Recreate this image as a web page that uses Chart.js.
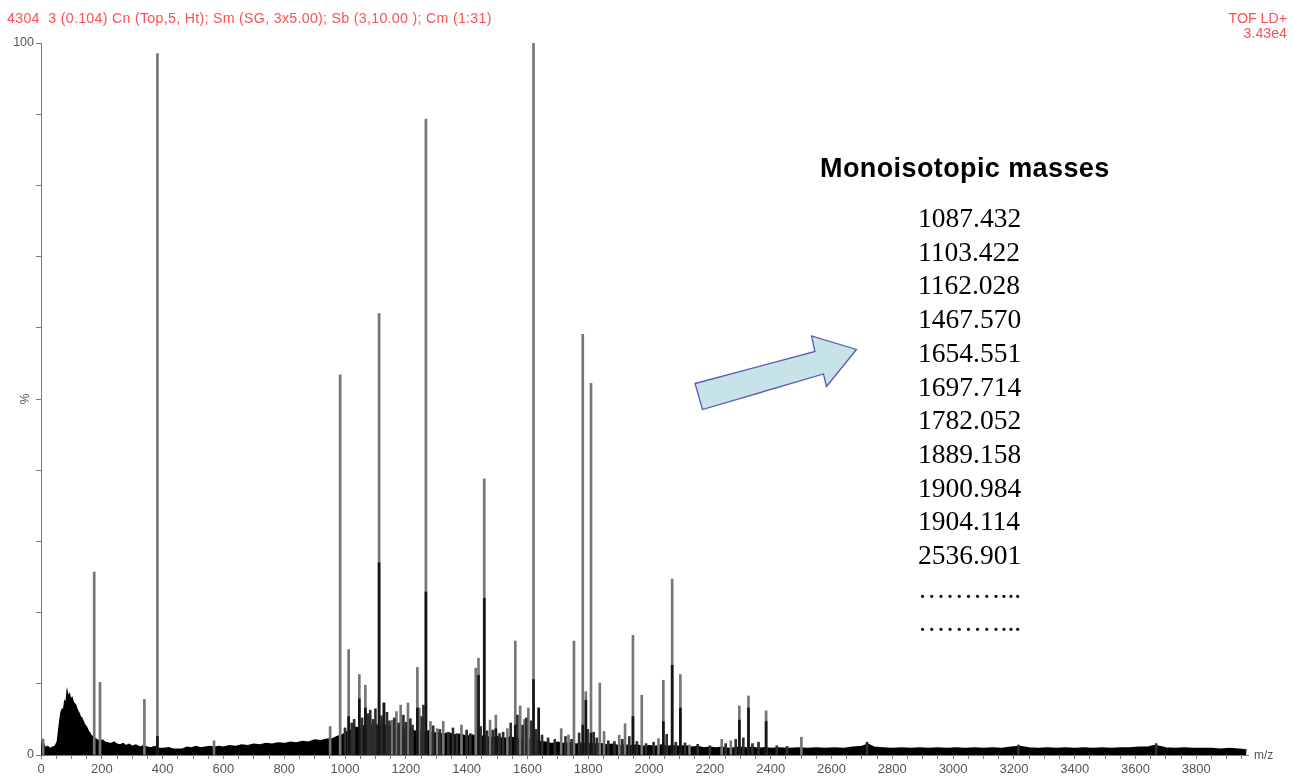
<!DOCTYPE html>
<html>
<head>
<meta charset="utf-8">
<script src="https://cdn.jsdelivr.net/npm/chart.js@4.4.1/dist/chart.umd.min.js"></script>
<style>
  html, body { margin:0; padding:0; background:#fff; }
  #wrap { position:relative; width:1293px; height:778px; overflow:hidden; }
  #c { position:absolute; left:0; top:0; }
  .hdr { position:absolute; font-family:"Liberation Sans", Arial, sans-serif; font-size:14.2px; letter-spacing:0.3px; color:#ff5050; white-space:pre; line-height:1; }
  #annTitle { position:absolute; left:820px; top:155px; font-family:"Liberation Sans", Arial, sans-serif; font-weight:bold; font-size:27px; letter-spacing:0.4px; line-height:1; color:#000; white-space:nowrap; }
  #annList { position:absolute; left:918px; top:201px; font-family:"Liberation Serif", "Times New Roman", serif; font-size:27.5px; line-height:33.7px; color:#000; white-space:pre; }
  #mz { position:absolute; left:1254px; top:749px; font-family:"Liberation Sans", Arial, sans-serif; font-size:12px; color:#555; line-height:1; }
  svg { position:absolute; left:0; top:0; pointer-events:none; }
</style>
</head>
<body>
<div id="wrap">
  <canvas id="c" width="1293" height="778"></canvas>
  <div class="hdr" id="hdrL" style="left:7px; top:11px;"></div>
  <div class="hdr" id="hdrR1" style="right:6px; top:11px; text-align:right; letter-spacing:0;"></div>
  <div class="hdr" id="hdrR2" style="right:6px; top:26px; text-align:right; letter-spacing:0;"></div>
  <div id="annTitle"></div>
  <div id="annList"></div>
  <div id="mz">m/z</div>
  <svg width="1293" height="778">
    <polygon points="695,383.5 815,351.5 811.5,336 856.5,349.5 826.5,386.5 823.5,374 702.5,409.5"
      fill="#c6e3e7" stroke="#5a5ab8" stroke-width="1.3" stroke-linejoin="miter"/>
  </svg>
</div>
<script>
// ---------- text ----------
const headerLeft = "4304  3 (0.104) Cn (Top,5, Ht); Sm (SG, 3x5.00); Sb (3,10.00 ); Cm (1:31)";
const headerRight = ["TOF LD+", "3.43e4"];
const annotationTitle = "Monoisotopic masses";
const monoMasses = ["1087.432","1103.422","1162.028","1467.570","1654.551","1697.714",
                    "1782.052","1889.158","1900.984","1904.114","2536.901","………...","………..."];
const xLabelStep = 200;

// ---------- spectrum peaks (m/z, relative intensity %) ----------
const peakMz  = [7, 175, 194, 340, 383, 569, 951, 984, 1012, 1047, 1067, 1112, 1128, 1155, 1169, 1183,
                 1207, 1238, 1244, 1266, 1281, 1303, 1323, 1383, 1430, 1439, 1458, 1477, 1496, 1534,
                 1560, 1576, 1590, 1603, 1620, 1637, 1711, 1735, 1753, 1782, 1792, 1809, 1838, 1852,
                 1902, 1921, 1947, 1976, 2031, 2047, 2076, 2103, 2133, 2239, 2269, 2297, 2327, 2385, 2501];
const peakPct = [2.2, 25.7, 10.2, 7.8, 98.5, 2.0, 4.0, 53.4, 14.8, 11.3, 9.8, 62.0, 7.3, 4.9, 6.1, 7.0,
                 7.3, 12.3, 6.6, 89.3, 4.7, 3.7, 4.7, 4.2, 12.2, 13.6, 38.8, 4.9, 5.6, 3.7,
                 16.0, 6.9, 5.0, 6.6, 100, 6.6, 3.7, 2.8, 16.0, 59.1, 8.9, 52.2, 10.1, 3.3,
                 2.8, 4.4, 16.8, 8.4, 2.3, 10.5, 24.7, 11.3, 1.4, 2.2, 2.0, 6.9, 8.3, 6.2, 2.5];

// dark (overlapping isotope) cores of peaks
const coreMz  = [383, 1012, 1047, 1067, 1112, 1128, 1238, 1266, 1439, 1458, 1496, 1560, 1620, 1637,
                 1782, 1792, 1809, 1947, 2047, 2076, 2103, 2297, 2327, 2385];
const corePct = [2.6, 5.4, 7.9, 6.6, 27.0, 7.3, 6.6, 22.9, 11.2, 22.0, 3.7, 4.2, 10.6, 6.6,
                 4.2, 7.7, 3.1, 5.4, 4.7, 12.6, 6.6, 4.9, 6.6, 4.7];

// small unlabelled spikes in the peptide region
const minorMz  = [1000, 1022, 1030, 1056, 1075, 1083, 1092, 1100, 1120, 1138, 1146, 1162, 1176, 1192, 1200,
                  1215, 1222, 1252, 1258, 1290, 1312, 1340, 1355, 1368, 1400, 1412, 1446, 1467, 1486, 1508,
                  1520, 1545, 1567, 1584, 1596, 1612, 1628, 1648, 1668, 1690, 1725, 1745, 1770, 1798, 1818,
                  1828, 1866, 1886, 1912, 1935, 1960, 1990, 2015, 2058, 2088, 2118, 2160, 2200, 2252, 2285,
                  2310, 2340, 2360, 2420, 2454, 2717, 3215, 3668];
const minorPct = [3.8, 4.5, 5.0, 5.2, 5.8, 6.3, 5.0, 6.5, 5.5, 6.0, 4.8, 5.2, 4.5, 5.6, 4.6,
                  5.1, 4.2, 5.4, 7.0, 4.1, 3.6, 3.2, 3.8, 3.0, 3.5, 3.0, 4.0, 3.4, 3.5, 3.0,
                  3.2, 4.5, 5.6, 4.2, 5.2, 4.8, 3.6, 2.8, 2.4, 2.2, 2.6, 2.2, 3.1, 3.6, 3.2,
                  2.4, 2.0, 1.9, 2.2, 2.6, 1.9, 1.6, 1.8, 2.9, 1.8, 1.7, 1.5, 1.3, 1.6, 2.2,
                  2.4, 1.6, 1.8, 1.3, 1.2, 1.8, 1.4, 1.6];

// chemical-noise baseline envelope
const noiseMz  = [0,5,10,15,22,30,38,46,54,58,62,66,70,74,78,82,86,90,94,98,102,106,110,114,118,122,126,130,134,138,
                  142,146,150,155,160,165,170,178,186,194,202,210,220,230,240,250,260,270,280,290,300,312,325,338,350,
                  362,375,390,405,420,435,450,465,480,495,510,525,540,555,570,585,600,620,640,660,680,700,720,740,760,
                  780,800,820,840,860,880,900,920,940,960,975,990,1005,1020,1035,1050,1065,1080,1095,1110,1125,1140,
                  1155,1170,1185,1200,1215,1230,1245,1260,1275,1290,1305,1320,1340,1360,1380,1400,1420,1440,1460,1480,
                  1500,1520,1540,1560,1580,1600,1620,1640,1660,1680,1700,1720,1740,1760,1780,1800,1820,1840,1860,1880,
                  1900,1920,1940,1960,1980,2000,2020,2040,2060,2080,2100,2120,2140,2160,2180,2200,2220,2240,2260,2280,
                  2300,2320,2340,2360,2380,2400,2430,2460,2490,2520,2550,2580,2610,2640,2670,2700,2720,2740,2770,2800,
                  2830,2860,2890,2920,2950,2980,3010,3040,3070,3100,3130,3160,3190,3220,3250,3280,3310,3340,3370,3400,
                  3430,3460,3490,3520,3550,3580,3610,3640,3660,3680,3700,3730,3760,3790,3820,3850,3880,3910,3940,3965];
const noisePct = [0.6,2.0,1.4,1.0,1.2,0.9,1.1,1.2,1.9,3.4,4.8,6.0,6.4,6.2,7.5,7.2,8.9,8.1,8.5,7.6,8.0,7.4,7.2,7.0,6.5,6.1,5.8,5.3,5.2,4.8,
                  4.4,4.1,3.9,3.4,3.1,2.7,2.6,2.3,2.1,1.9,2.1,1.8,1.7,1.6,1.8,1.5,1.4,1.6,1.3,1.5,1.2,1.4,1.1,1.3,1.1,
                  1.0,1.2,0.9,0.9,1.0,0.8,0.8,0.8,1.1,1.0,1.2,1.0,1.1,1.2,1.1,1.2,1.1,1.3,1.2,1.4,1.3,1.5,1.4,1.6,1.5,
                  1.7,1.6,1.8,1.7,1.9,1.8,2.1,2.0,2.2,2.3,2.6,2.8,3.2,3.5,3.9,3.7,4.2,3.8,4.6,4.0,4.4,3.9,
                  4.2,3.6,3.9,3.4,3.7,3.3,3.5,3.1,3.4,3.0,3.2,2.9,3.1,2.8,2.9,2.6,2.8,2.5,2.7,2.4,
                  2.6,2.3,2.5,2.4,2.2,2.3,2.1,1.9,1.8,1.6,1.8,1.6,1.7,1.5,1.7,1.6,1.5,1.6,1.4,1.5,
                  1.3,1.4,1.3,1.4,1.2,1.3,1.2,1.4,1.2,1.3,1.2,1.3,1.1,1.2,1.0,1.1,1.0,1.1,0.9,1.0,
                  1.1,1.0,1.1,0.9,1.0,0.9,1.0,0.9,1.0,0.9,1.0,0.9,1.0,0.9,1.1,1.2,1.5,1.1,1.0,0.9,
                  1.0,0.9,1.0,0.9,1.0,0.9,1.0,0.9,1.0,0.9,1.0,0.9,1.1,1.2,1.0,0.9,1.0,0.9,1.0,0.9,
                  1.0,0.9,1.0,0.9,1.0,1.0,1.1,1.1,1.3,1.2,1.0,0.9,1.0,0.9,0.9,0.9,0.8,0.9,0.8,0.7];

// ---------- DOM text ----------
document.getElementById('hdrL').textContent = headerLeft;
document.getElementById('hdrR1').textContent = headerRight[0];
document.getElementById('hdrR2').textContent = headerRight[1];
document.getElementById('annTitle').textContent = annotationTitle;
document.getElementById('annList').textContent = monoMasses.join('\n');

// ---------- chart ----------
const toXY = (xs, ys) => xs.map((m, i) => ({ x: m, y: ys[i] }));
const axisGrey = '#7a7a7a';
const tickFont = { family: '"Liberation Sans", Arial, sans-serif', size: 13 };

new Chart(document.getElementById('c'), {
  data: {
    datasets: [
      { type: 'bar', label: 'core', data: toXY(coreMz, corePct), backgroundColor: '#151515',
        barThickness: 2, grouped: false, borderWidth: 0 },
      { type: 'bar', label: 'minor', data: toXY(minorMz, minorPct), backgroundColor: '#2e2e2e',
        barThickness: 2, grouped: false, borderWidth: 0 },
      { type: 'bar', label: 'peaks', data: toXY(peakMz, peakPct), backgroundColor: '#767676',
        barThickness: 2, grouped: false, borderWidth: 0 },
      { type: 'line', label: 'baseline', data: toXY(noiseMz, noisePct), borderColor: '#000',
        backgroundColor: '#000', borderWidth: 1.5, pointRadius: 0, fill: 'origin', tension: 0 }
    ]
  },
  options: {
    responsive: false,
    animation: false,
    events: [],
    layout: { padding: { left: 0, right: 45, top: 43, bottom: 0 } },
    plugins: { legend: { display: false }, tooltip: { enabled: false }, title: { display: false } },
    scales: {
      x: {
        type: 'linear', min: 0, max: 3970, offset: false,
        grid: { display: true, drawOnChartArea: false, drawTicks: true, tickLength: 4, color: axisGrey, offset: false },
        border: { display: true, color: axisGrey, width: 1 },
        ticks: {
          stepSize: 50, autoSkip: false, maxRotation: 0, minRotation: 0, includeBounds: false,
          padding: 3, color: '#555', font: tickFont,
          callback: (v) => (v % xLabelStep === 0 ? String(v) : '')
        },
        afterFit: (s) => { s.height = 23; }
      },
      y: {
        type: 'linear', min: 0, max: 100,
        grid: { display: true, drawOnChartArea: false, drawTicks: true, tickLength: 5, color: axisGrey },
        border: { display: true, color: axisGrey, width: 1 },
        title: { display: true, text: '%', color: '#555', font: { family: '"Liberation Sans", Arial, sans-serif', size: 12 }, padding: { top: 18, bottom: 0 } },
        ticks: {
          stepSize: 10, padding: 2, color: '#555', font: { family: '"Liberation Sans", Arial, sans-serif', size: 12.5 },
          callback: (v) => (v === 100 ? '100' : v === 0 ? '0' : '')
        },
        afterFit: (s) => { s.width = 41; }
      }
    }
  }
});
</script>
</body>
</html>
